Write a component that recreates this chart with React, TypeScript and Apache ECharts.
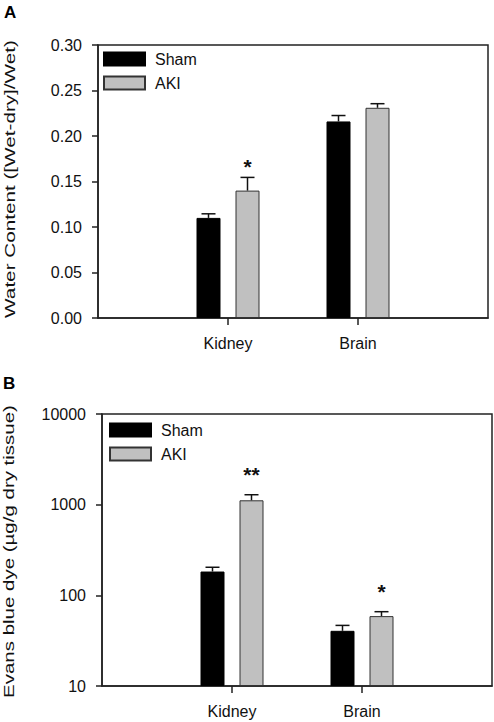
import React, { useEffect, useRef } from 'react';
import * as echarts from 'echarts';

// ---- data ----
const categories = ['', 'Kidney', 'Brain', ''];
const groupIndex = [1, 2];
const seriesNames = ['Sham', 'AKI'];

const waterSham = [0.110, 0.216];
const waterShamErr = [0.0045, 0.0065];
const waterAKI = [0.140, 0.231];
const waterAKIErr = [0.0145, 0.0045];
const waterAKIStars = ['*', ''];

const evansSham = [183, 40.6];
const evansShamErr = [21, 6];
const evansAKI = [1117, 59];
const evansAKIErr = [170, 7];
const evansAKIStars = ['**', '*'];

const waterMin = 0;
const waterMax = 0.3;
const waterInterval = 0.05;
const evansMin = 10;
const evansMax = 10000;

const yTitleA = 'Water Content ([Wet-dry]/Wet)';
const yTitleB = 'Evans blue dye (µg/g dry tissue)';
const panelLabels = ['A', 'B'];

const FONT = '"Liberation Sans", Arial, Helvetica, sans-serif';
const LINE = '#222';
const TEXT = '#111';
const BAR_W = 24;
const BAR_GAP_PX = 15;

function measure(text: string, font: string): number {
  const c = document.createElement('canvas').getContext('2d');
  if (!c) return text.length * 7;
  c.font = font;
  return c.measureText(text).width;
}

function makeErr(offset: number, stars: string[] | null, starGap: number) {
  return (params: any, api: any) => {
    const x = api.value(0);
    const v = api.value(1);
    const hi = api.value(2);
    const p0 = api.coord([x, v]);
    const p1 = api.coord([x, hi]);
    const cx = p0[0] + offset;
    const children: any[] = [
      { type: 'line', shape: { x1: cx, y1: p0[1], x2: cx, y2: p1[1] }, style: { stroke: TEXT, lineWidth: 1.5 } },
      { type: 'line', shape: { x1: cx - 7, y1: p1[1], x2: cx + 7, y2: p1[1] }, style: { stroke: TEXT, lineWidth: 1.5 } },
    ];
    const s = stars ? stars[params.dataIndex] : '';
    if (s) {
      children.push({
        type: 'text',
        x: cx,
        y: p1[1] - starGap,
        style: { text: s, fill: TEXT, font: `bold 21px ${FONT}`, align: 'center', verticalAlign: 'middle' },
      });
    }
    return { type: 'group', children };
  };
}

export default function App() {
  const ref = useRef<HTMLDivElement>(null);
  useEffect(() => {
    if (!ref.current) return;
    const chart = echarts.init(ref.current, null, { renderer: 'svg' });
    const titleFont = `14px ${FONT}`;
    const sA = 278 / measure(yTitleA, titleFont);
    const sB = 293 / measure(yTitleB, titleFont);

    const off = (BAR_W + BAR_GAP_PX) / 2;
    const xAxis = (gi: number) => ({
      gridIndex: gi,
      type: 'category',
      data: categories,
      boundaryGap: false,
      axisLine: { show: true, onZero: false, lineStyle: { color: LINE, width: 1.5 } },
      axisTick: { show: true, interval: (idx: number) => idx === 1 || idx === 2, length: 7, lineStyle: { color: LINE, width: 1.5 } },
      axisLabel: { interval: 0, margin: 17, fontSize: 16, color: TEXT, fontFamily: FONT },
      splitLine: { show: false },
    });
    const yCommon = {
      axisLine: { show: true, lineStyle: { color: LINE, width: 1.5 } },
      axisTick: { show: true, length: 6, lineStyle: { color: LINE, width: 1.5 } },
      splitLine: { show: false },
    };
    const barStyle = (i: number) =>
      i === 0
        ? { color: '#000', borderColor: '#000', borderWidth: 1 }
        : { color: '#c0c0c0', borderColor: '#333', borderWidth: 1 };

    const pairs = (arr: number[]) => arr.map((v, i) => [groupIndex[i], v]);
    const errPairs = (arr: number[], err: number[]) => arr.map((v, i) => [groupIndex[i], v, v + err[i]]);

    const legend = (left: number, top: number) => ({
      left,
      top,
      orient: 'vertical',
      padding: 0,
      icon: 'rect',
      itemWidth: 41,
      itemHeight: 13,
      itemGap: 8,
      selectedMode: false,
      data: seriesNames,
      textStyle: { fontSize: 16, color: TEXT, fontFamily: FONT, padding: [0, 0, 0, 5] },
    });

    chart.setOption({
      animation: false,
      backgroundColor: '#fff',
      grid: [
        { left: 98, top: 45, width: 390, height: 273, show: true, borderColor: LINE, borderWidth: 1.5, containLabel: false, outerBoundsMode: 'none' },
        { left: 102, top: 414, width: 390, height: 272, show: true, borderColor: LINE, borderWidth: 1.5, containLabel: false, outerBoundsMode: 'none' },
      ],
      legend: [legend(103, 51), legend(109, 422)],
      xAxis: [xAxis(0), xAxis(1)],
      yAxis: [
        {
          gridIndex: 0,
          type: 'value',
          min: waterMin,
          max: waterMax,
          interval: waterInterval,
          ...yCommon,
          axisLabel: { fontSize: 16, color: TEXT, fontFamily: FONT, margin: 16, formatter: (v: number) => v.toFixed(2) },
        },
        {
          gridIndex: 1,
          type: 'log',
          logBase: 10,
          min: evansMin,
          max: evansMax,
          startValue: evansMin,
          ...yCommon,
          axisLabel: { fontSize: 16, color: TEXT, fontFamily: FONT, margin: 16, formatter: (v: number) => String(Math.round(v)) },
        },
      ],
      series: [
        { type: 'bar', name: seriesNames[0], xAxisIndex: 0, yAxisIndex: 0, data: pairs(waterSham), barWidth: BAR_W, barGap: `${(BAR_GAP_PX / BAR_W) * 100}%`, itemStyle: barStyle(0) },
        { type: 'bar', name: seriesNames[1], xAxisIndex: 0, yAxisIndex: 0, data: pairs(waterAKI), barWidth: BAR_W, barGap: `${(BAR_GAP_PX / BAR_W) * 100}%`, itemStyle: barStyle(1) },
        { type: 'bar', name: seriesNames[0], xAxisIndex: 1, yAxisIndex: 1, data: pairs(evansSham), barWidth: BAR_W, barGap: `${(BAR_GAP_PX / BAR_W) * 100}%`, itemStyle: barStyle(0) },
        { type: 'bar', name: seriesNames[1], xAxisIndex: 1, yAxisIndex: 1, data: pairs(evansAKI), barWidth: BAR_W, barGap: `${(BAR_GAP_PX / BAR_W) * 100}%`, itemStyle: barStyle(1) },
        { type: 'custom', name: 'Sham SE A', xAxisIndex: 0, yAxisIndex: 0, z: 5, silent: true, clip: false, data: errPairs(waterSham, waterShamErr), renderItem: makeErr(-off, null, 0) },
        { type: 'custom', name: 'AKI SE A', xAxisIndex: 0, yAxisIndex: 0, z: 5, silent: true, clip: false, data: errPairs(waterAKI, waterAKIErr), renderItem: makeErr(off, waterAKIStars, 11) },
        { type: 'custom', name: 'Sham SE B', xAxisIndex: 1, yAxisIndex: 1, z: 5, silent: true, clip: false, data: errPairs(evansSham, evansShamErr), renderItem: makeErr(-off, null, 0) },
        { type: 'custom', name: 'AKI SE B', xAxisIndex: 1, yAxisIndex: 1, z: 5, silent: true, clip: false, data: errPairs(evansAKI, evansAKIErr), renderItem: makeErr(off, evansAKIStars, 20) },
      ],
      graphic: [
        { type: 'text', x: 4, y: 4, style: { text: panelLabels[0], font: `bold 17px ${FONT}`, fill: '#000', verticalAlign: 'top' } },
        { type: 'text', x: 3, y: 375, style: { text: panelLabels[1], font: `bold 17px ${FONT}`, fill: '#000', verticalAlign: 'top' } },
        { type: 'text', x: 10, y: 179, rotation: Math.PI / 2, scaleX: sA, style: { text: yTitleA, font: titleFont, fill: TEXT, align: 'center', verticalAlign: 'middle' } },
        { type: 'text', x: 9, y: 551.5, rotation: Math.PI / 2, scaleX: sB, style: { text: yTitleB, font: titleFont, fill: TEXT, align: 'center', verticalAlign: 'middle' } },
      ],
    });
    return () => chart.dispose();
  }, []);
  return (
    <div
      ref={ref}
      style={{ position: 'fixed', left: 0, top: 0, width: 494, height: 722, background: '#fff' }}
    />
  );
}
